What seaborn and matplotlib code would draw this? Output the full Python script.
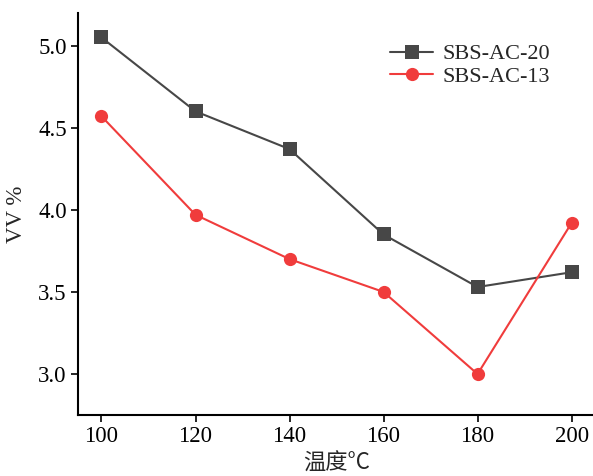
import matplotlib
matplotlib.use("Agg")
import matplotlib.pyplot as plt
import seaborn as sns
import pandas as pd

temps = [100, 120, 140, 160, 180, 200]
vv_ac20 = [5.05, 4.60, 4.37, 3.85, 3.53, 3.62]
vv_ac13 = [4.57, 3.97, 3.70, 3.50, 3.00, 3.92]
series_names = ["SBS-AC-20", "SBS-AC-13"]

df = pd.DataFrame({
    "T": temps * 2,
    "VV": vv_ac20 + vv_ac13,
    "grp": [series_names[0]] * len(temps) + [series_names[1]] * len(temps),
})

sns.set_style("ticks")
plt.rcParams['font.family'] = ['Liberation Serif', 'Noto Sans CJK SC', 'DejaVu Sans']

fig = plt.figure(figsize=(5.93, 4.76), dpi=100)
ax = fig.add_axes([0.1315, 0.128, 0.872, 0.845])

palette = {series_names[0]: "#474747", series_names[1]: "#f03c3c"}
markers = {series_names[0]: "s", series_names[1]: "o"}
sns.lineplot(data=df, x="T", y="VV", hue="grp", style="grp", palette=palette,
             markers=markers, dashes=False, markersize=9.5, linewidth=1.5,
             markeredgewidth=0, ax=ax)

ax.set_xlim(95, 205)
ax.set_ylim(2.75, 5.2)
ax.set_xticks(temps)
ax.set_yticks([3.0, 3.5, 4.0, 4.5, 5.0])
ax.set_yticklabels(["3.0", "3.5", "4.0", "4.5", "5.0"])
ax.tick_params(labelsize=16.5, direction="out", length=5, width=1.2, colors="black", pad=3)
for s in ["top", "right"]:
    ax.spines[s].set_visible(False)
for s in ["left", "bottom"]:
    ax.spines[s].set_linewidth(1.5)
    ax.spines[s].set_color("black")

ax.set_xlabel("温度°C", fontsize=16, family=['Noto Sans CJK SC', 'Liberation Serif'], labelpad=3)
ax.set_ylabel("VV %", fontsize=16.5, labelpad=8)

leg = ax.legend(loc="upper right", bbox_to_anchor=(0.93, 0.945), frameon=False,
                fontsize=16, handlelength=1.95, handletextpad=0.4, labelspacing=0.1,
                borderaxespad=0)

fig.savefig("out.png", dpi=100)
